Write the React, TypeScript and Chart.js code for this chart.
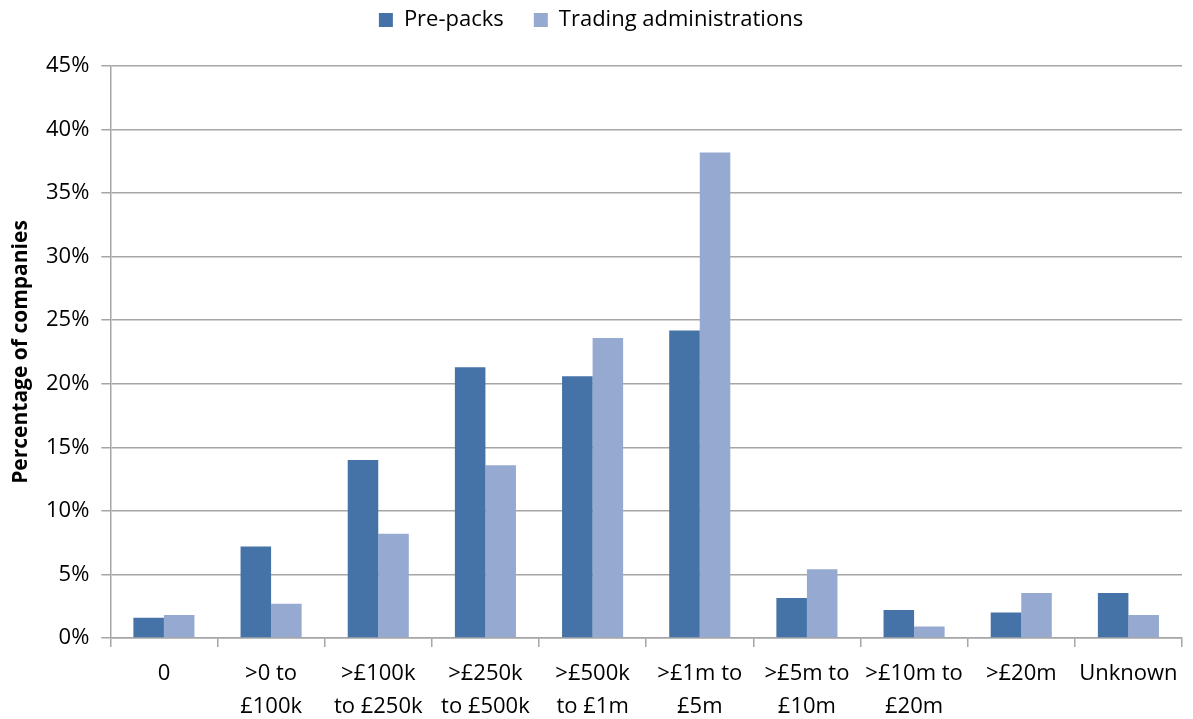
import React, { useEffect, useRef } from "react";
import { Chart, registerables } from "chart.js";

Chart.register(...registerables);

// Turnover bands (x axis), two-line labels where the band name wraps
const categories: string[][] = [
  ["0"],
  [">0 to", "£100k"],
  [">£100k", "to £250k"],
  [">£250k", "to £500k"],
  [">£500k", "to £1m"],
  [">£1m to", "£5m"],
  [">£5m to", "£10m"],
  [">£10m to", "£20m"],
  [">£20m"],
  ["Unknown"],
];

// Percentage of companies in each band
const prePacks: number[] = [1.6, 7.2, 14.0, 21.3, 20.6, 24.2, 3.15, 2.2, 2.0, 3.55];
const tradingAdministrations: number[] = [1.8, 2.7, 8.2, 13.6, 23.6, 38.2, 5.4, 0.9, 3.55, 1.8];

const seriesNames = ["Pre-packs", "Trading administrations"];
const yTicksMax = 45;
const yTicksStep = 5;

const FONT = "'Open Sans', 'DejaVu Sans', sans-serif";
const GRID = "#a6a6a6";
const LEGEND_SHIFT = -25;

// Lifts the legend row closer to the top edge without moving the plot area
const legendShift = {
  id: "legendShift",
  afterLayout(chart: any) {
    const lg = chart.legend;
    if (lg) {
      lg.top += LEGEND_SHIFT;
      lg.bottom += LEGEND_SHIFT;
    }
  },
};

export default function App() {
  const canvasRef = useRef<HTMLCanvasElement | null>(null);

  useEffect(() => {
    const canvas = canvasRef.current;
    if (!canvas) return;
    const chart = new Chart(canvas, {
      type: "bar",
      data: {
        labels: categories,
        datasets: [
          {
            label: seriesNames[0],
            data: prePacks,
            backgroundColor: "#4673a7",
            borderWidth: 0,
          },
          {
            label: seriesNames[1],
            data: tradingAdministrations,
            backgroundColor: "#96aad1",
            borderWidth: 0,
          },
        ],
      },
      plugins: [legendShift],
      options: {
        responsive: false,
        animation: false,
        devicePixelRatio: 1,
        // the two-line band labels run right down to the bottom edge
        layout: { padding: { left: 0, right: 11, top: 4, bottom: -14 } },
        datasets: {
          bar: { categoryPercentage: 0.57, barPercentage: 1.0 },
        },
        plugins: {
          tooltip: { enabled: false },
          legend: {
            position: "top",
            align: "center",
            labels: {
              boxWidth: 14,
              boxHeight: 14,
              padding: 30,
              color: "#000",
              font: { family: FONT, size: 22 },
            },
          },
        },
        scales: {
          x: {
            offset: true,
            grid: {
              offset: true,
              drawOnChartArea: false,
              drawTicks: true,
              tickLength: 9,
              color: GRID,
              lineWidth: 1.5,
            },
            border: { display: true, color: GRID, width: 1.5 },
            ticks: {
              autoSkip: false,
              maxRotation: 0,
              minRotation: 0,
              padding: 10,
              color: "#000",
              font: { family: FONT, size: 22, lineHeight: 1.5 },
            },
          },
          y: {
            min: 0,
            max: yTicksMax,
            grid: {
              drawOnChartArea: true,
              drawTicks: true,
              tickLength: 9,
              color: GRID,
              lineWidth: 1.5,
            },
            border: { display: true, color: GRID, width: 1.5 },
            ticks: {
              stepSize: yTicksStep,
              padding: 12,
              color: "#000",
              font: { family: FONT, size: 22 },
              callback: (v) => `${v}%`,
            },
            title: {
              display: true,
              text: "Percentage of companies",
              color: "#000",
              font: { family: FONT, size: 21, weight: "bold", lineHeight: 1 },
              padding: { top: 11, bottom: 2 },
            },
          },
        },
      },
    });
    return () => chart.destroy();
  }, []);

  return (
    <div style={{ position: "fixed", left: 0, top: 0, width: 1193, height: 719, background: "#fff" }}>
      <canvas ref={canvasRef} width={1193} height={719} />
    </div>
  );
}
